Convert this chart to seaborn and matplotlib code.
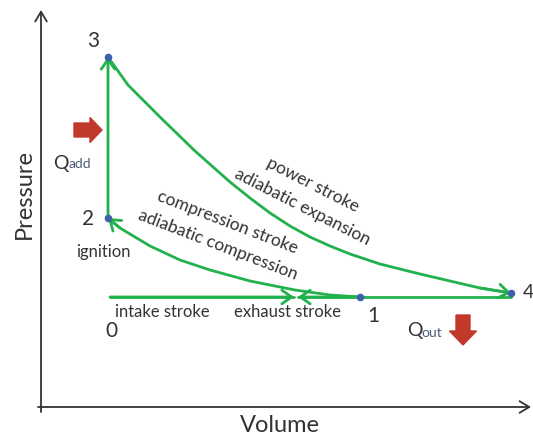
import pandas as pd
import matplotlib.pyplot as plt
import seaborn as sns

sns.set_theme(style="white")
plt.rcParams['font.family'] = ['Lato', 'DejaVu Sans']

# state points of the cycle (volume, pressure in arbitrary units)
state_labels = ['0', '1', '2', '3', '4']
state_V = [69, 319, 67, 67, 470]
state_P = [110, 110, 189, 350, 114]

# power stroke / adiabatic expansion, 3 -> 4
expansion_V = [67, 87, 121, 154, 189, 209, 229, 249, 269, 289, 309, 339, 379, 409, 439, 470]
expansion_P = [350, 322, 288, 256, 225, 209, 194, 181, 170, 161, 153, 143, 133, 126, 119, 114]

# compression stroke / adiabatic compression, 1 -> 2
compression_V = [319, 289, 254, 209, 169, 139, 109, 79, 67]
compression_P = [110, 112, 117, 126, 137, 147, 161, 179, 189]

# intake (0 -> 1) and exhaust (1 -> 0) arrow tips on the horizontal line
intake_tip_V = 253
exhaust_tip_V = 257

GREEN = '#22b14c'
RED = '#c0392b'
BLUE = '#3d62a8'
TEXT = '#333333'


def draw_curve(ax, V, P):
    df = pd.DataFrame({'Volume': V, 'Pressure': P})
    sns.lineplot(data=df, x='Volume', y='Pressure', sort=False, color=GREEN,
                 linewidth=2.0, ax=ax, legend=False, solid_joinstyle='round')
    ax.annotate('', xy=(V[-1], P[-1]), xytext=(V[-2], P[-2]),
                arrowprops=dict(arrowstyle='->,head_length=0.5,head_width=0.35',
                                color=GREEN, lw=2.0, mutation_scale=14,
                                shrinkA=0, shrinkB=0))


def otto_cycle():
    fig = plt.figure(figsize=(5.33, 4.37), dpi=100)
    ax = fig.add_axes([0, 0, 1, 1])
    ax.set_xlim(-41, 492)
    ax.set_ylim(-30, 407)
    ax.axis('off')

    # axes with arrow heads
    ax.annotate('', xy=(0, 397), xytext=(0, -5),
                arrowprops=dict(arrowstyle='->,head_length=0.5,head_width=0.3',
                                color=TEXT, lw=1.3, mutation_scale=14, shrinkA=0, shrinkB=0))
    ax.annotate('', xy=(490, 0), xytext=(-3, 0),
                arrowprops=dict(arrowstyle='->,head_length=0.5,head_width=0.3',
                                color=TEXT, lw=1.3, mutation_scale=14, shrinkA=0, shrinkB=0))
    ax.text(-17, 213, 'Pressure', rotation=90, ha='center', va='center',
            fontsize=17, color=TEXT)
    ax.text(239, -19, 'Volume', ha='center', va='center', fontsize=17, color=TEXT)

    # cycle paths
    draw_curve(ax, [state_V[2], state_V[3]], [state_P[2], state_P[3]])
    draw_curve(ax, expansion_V, expansion_P)
    draw_curve(ax, compression_V, compression_P)
    draw_curve(ax, [state_V[0], intake_tip_V], [state_P[0], state_P[0]])
    draw_curve(ax, [state_V[1], exhaust_tip_V], [state_P[1], state_P[1]])
    sns.lineplot(x=[state_V[1], state_V[4]], y=[state_P[1], state_P[1]],
                 color=GREEN, linewidth=2.0, ax=ax)

    pts = pd.DataFrame({'Volume': state_V[1:], 'Pressure': state_P[1:]})
    sns.scatterplot(data=pts, x='Volume', y='Pressure', color=BLUE, s=30,
                    edgecolor=BLUE, linewidth=0, zorder=5, ax=ax)

    # state numbers
    ax.text(52, 366, state_labels[3], ha='center', va='center', fontsize=15, color=TEXT)
    ax.text(47, 188, state_labels[2], ha='center', va='center', fontsize=15, color=TEXT)
    ax.text(332, 91, state_labels[1], ha='center', va='center', fontsize=15, color=TEXT)
    ax.text(70, 76, state_labels[0], ha='center', va='center', fontsize=15, color=TEXT)
    ax.text(482, 114, state_labels[4], ha='left', va='center', fontsize=14, color=TEXT)

    # process labels
    ax.text(62, 155, 'ignition', ha='center', va='center', fontsize=12, color=TEXT)
    ax.text(272, 222, 'power stroke', rotation=-27, rotation_mode='anchor',
            ha='center', va='center', fontsize=12.5, color=TEXT)
    ax.text(261, 200, 'adiabatic expansion', rotation=-27, rotation_mode='anchor',
            ha='center', va='center', fontsize=12.5, color=TEXT)
    ax.text(187, 185, 'compression stroke', rotation=-21, rotation_mode='anchor',
            ha='center', va='center', fontsize=12.5, color=TEXT)
    ax.text(177, 162, 'adiabatic compression', rotation=-21, rotation_mode='anchor',
            ha='center', va='center', fontsize=12.5, color=TEXT)
    ax.text(121, 95, 'intake stroke', ha='center', va='center', fontsize=12, color=TEXT)
    ax.text(246, 95, 'exhaust stroke', ha='center', va='center', fontsize=12, color=TEXT)

    # heat in / heat out
    ax.text(12, 238, 'Q', ha='left', va='baseline', fontsize=14, color=TEXT)
    ax.text(28, 239, 'add', ha='left', va='baseline', fontsize=10, color='#4a5a78')
    ax.arrow(33, 277, 28, 0, width=14, head_width=25, head_length=12,
             length_includes_head=True, color=RED, zorder=4)
    ax.text(366, 71, 'Q', ha='left', va='baseline', fontsize=14, color=TEXT)
    ax.text(380, 70, 'out', ha='left', va='baseline', fontsize=10, color='#4a5a78')
    ax.arrow(422, 92, 0, -30, width=14, head_width=27, head_length=14,
             length_includes_head=True, color=RED, zorder=4)

    fig.savefig('out.png', dpi=100)
    plt.close(fig)


if __name__ == "__main__":
    otto_cycle()
